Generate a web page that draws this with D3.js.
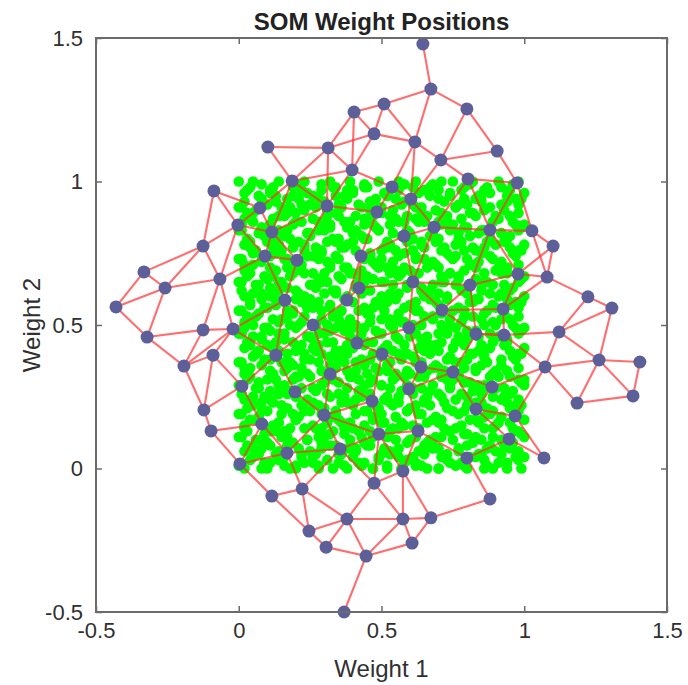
<!DOCTYPE html>
<html>
<head>
<meta charset="utf-8">
<script src="https://cdn.jsdelivr.net/npm/d3@7"></script>
<style>
  body { margin: 0; background: #fff; }
  text { font-family: "Liberation Sans", Arial, Helvetica, sans-serif; }
</style>
</head>
<body>
<div id="container"></div>
<script>
const width = 688;
const height = 685;
const marginTop = 38;
const marginRight = 21;
const marginBottom = 73;
const marginLeft = 96;

const xTicks = [-0.5, 0, 0.5, 1, 1.5];
const xTickLabels = ["-0.5", "0", "0.5", "1", "1.5"];
const yTicks = [-0.5, 0, 0.5, 1, 1.5];
const yTickLabels = ["-0.5", "0", "0.5", "1", "1.5"];

// input samples (hundredths), one line per row of the cloud
const greenX = [
1,2,8,9,10,16,18,20,26,28,28,33,37,38,42,47,47,52,52,57,62,62,66,70,70,76,78,80,86,87,89,94,94,99,
0,4,5,11,13,14,20,22,23,27,31,35,35,40,43,44,49,50,56,58,59,64,65,71,73,74,79,83,84,86,91,92,98,100,
2,3,7,8,14,16,17,22,25,26,29,34,36,41,41,46,49,53,53,56,61,63,68,68,73,77,77,81,85,88,90,95,97,98,
0,5,6,10,11,15,19,21,24,29,30,32,38,39,44,45,47,51,55,59,60,65,66,70,71,75,80,82,83,87,92,93,96,100,
1,3,8,9,13,17,16,23,24,28,32,33,37,37,43,46,48,52,54,56,62,63,67,69,74,76,79,80,85,89,89,94,97,99,
2,2,6,11,12,14,18,20,26,27,29,35,36,40,42,44,50,51,53,58,61,62,66,71,72,74,78,83,84,86,90,95,96,98,
0,4,7,8,14,15,20,21,23,29,31,33,34,39,44,47,47,50,55,57,59,64,68,69,70,77,79,81,86,88,91,92,98,100,
1,3,5,10,12,17,19,22,25,26,30,34,38,40,41,45,49,53,54,59,60,63,65,67,73,75,77,82,83,87,89,94,95,99,
2,1,8,9,11,15,17,23,24,28,32,31,36,41,43,46,48,51,56,56,62,65,66,70,72,76,80,80,85,85,92,93,97,98,
0,5,6,11,14,16,18,20,22,27,29,35,37,38,42,44,50,52,53,57,61,61,67,71,74,74,78,82,84,89,90,95,96,100,
1,3,7,7,13,14,19,21,26,29,30,33,35,40,44,47,46,50,55,58,59,63,64,68,73,77,79,81,86,86,91,93,98,99,
2,4,4,10,12,16,20,22,24,25,31,34,38,39,42,45,49,52,54,55,60,65,66,70,71,75,77,83,83,88,89,94,95,100,
0,2,8,11,11,15,17,19,25,28,29,32,37,41,43,44,48,53,52,59,62,62,68,69,72,76,80,79,85,87,90,92,97,98,
1,5,6,9,14,13,18,23,23,27,32,35,34,38,41,46,50,50,56,57,61,64,65,67,74,73,78,82,84,86,92,95,96,99,
2,3,7,10,12,17,19,20,26,29,28,33,36,40,44,45,47,51,54,58,59,63,67,71,70,75,79,81,86,89,88,93,98,100,
0,4,5,8,13,16,16,22,24,26,30,31,38,39,42,47,49,52,55,56,60,65,64,69,73,77,76,80,83,85,91,94,94,98,
1,2,8,11,10,14,20,21,25,28,32,34,37,37,43,44,48,50,53,59,62,61,66,70,72,74,80,83,84,88,90,92,97,99,
2,5,6,9,14,15,18,23,22,27,31,33,35,41,40,46,50,53,54,57,58,64,68,68,71,76,78,82,85,86,89,95,96,100,
0,3,7,10,12,17,17,19,26,29,29,35,36,39,44,45,46,51,56,55,61,63,65,71,74,75,77,79,86,87,92,93,98,98,
1,4,4,9,13,13,19,22,24,25,32,32,38,40,42,47,49,52,52,58,60,62,67,69,70,77,79,81,83,89,90,94,95,99,
2,1,8,8,11,16,20,20,23,28,30,34,37,38,43,44,48,50,55,56,62,65,66,67,73,73,80,82,84,85,91,92,97,100,
0,5,6,11,14,15,17,21,26,27,31,33,34,41,41,46,50,53,54,59,59,64,64,70,72,76,78,80,86,88,89,95,96,98,
1,3,7,10,12,14,18,23,25,29,28,35,36,39,44,45,47,51,53,57,61,61,68,71,71,74,77,83,85,87,92,93,98,99,
2,4,5,9,13,17,19,22,22,26,30,32,38,40,42,43,49,52,56,55,60,63,66,69,74,77,79,81,83,86,90,94,94,100,
0,2,8,8,11,16,20,20,24,28,32,31,35,37,43,47,48,50,54,58,62,65,67,68,70,75,76,82,84,89,91,92,97,98,
1,5,6,11,12,13,17,23,26,27,29,34,37,41,44,46,46,51,55,56,58,62,65,71,73,74,80,79,86,85,88,95,96,99,
2,3,4,10,14,15,18,19,23,29,31,35,36,38,40,44,50,53,52,59,61,64,64,70,72,76,78,83,82,88,90,93,98,100,
0,4,7,9,13,17,16,21,25,25,30,33,34,40,43,45,49,52,54,57,60,61,67,69,74,77,77,81,85,87,92,94,95,98,
1,1,8,8,11,14,19,22,24,28,32,32,38,39,41,47,48,49,56,58,59,63,68,68,71,73,79,80,84,86,89,92,97,99,
2,5,5,11,12,16,20,20,26,29,28,34,35,37,44,44,47,53,53,55,62,65,66,71,70,75,78,82,83,89,91,95,96,100,
0,3,6,10,14,15,17,23,22,27,31,31,36,41,42,46,50,50,54,59,61,62,64,69,73,76,80,81,86,88,90,93,98,98,
1,2,8,9,13,13,18,21,25,26,30,35,37,38,43,47,46,52,55,57,58,64,67,70,72,77,76,79,85,85,92,94,94,99,
2,4,7,11,11,17,19,19,24,28,29,33,34,40,40,45,48,51,52,56,60,63,65,67,74,74,78,83,84,87,88,95,97,100,
0,3,5,8,12,14,20,22,23,29,32,34,38,39,44,44,49,53,56,58,62,61,68,70,71,75,79,81,82,86,91,92,96,98
];
const greenY = [
1,0,0,2,0,1,0,0,2,1,0,0,1,0,2,0,0,1,0,0,2,1,0,0,0,1,2,0,0,1,0,0,2,0,
1,3,4,2,5,3,1,4,2,5,3,2,5,4,1,2,3,5,4,2,3,1,5,4,3,2,1,4,5,3,2,5,3,4,
6,8,5,7,6,4,8,5,6,4,7,8,5,6,7,8,4,6,5,7,4,6,7,8,5,6,7,4,5,8,6,7,4,6,
11,7,10,9,8,11,9,7,10,9,11,8,7,10,9,8,11,7,10,9,10,8,9,7,11,10,8,9,11,7,10,8,9,11,
11,13,10,12,13,11,13,14,10,11,12,13,12,14,11,13,12,11,14,14,11,14,10,11,13,14,12,12,10,11,14,10,13,12,
15,14,17,13,15,16,14,17,15,14,14,17,16,14,13,15,16,16,13,15,15,14,16,17,14,13,15,17,16,14,15,16,14,13,
19,17,18,20,16,19,17,18,20,19,16,18,19,16,20,18,17,19,18,16,20,19,17,18,16,19,20,17,18,19,16,18,20,17,
19,21,22,20,23,21,19,22,20,23,21,20,23,22,19,20,21,23,22,20,21,19,23,22,21,20,19,22,23,21,20,23,21,22,
24,26,23,25,24,22,26,23,24,22,25,26,23,24,25,26,22,24,23,25,22,24,25,26,23,24,25,22,23,26,24,25,22,24,
29,25,28,27,26,29,27,25,28,27,29,26,25,28,27,26,29,25,28,27,28,26,27,25,29,28,26,27,29,25,28,26,27,29,
29,31,28,30,31,29,31,32,28,29,30,31,30,32,29,31,30,29,32,32,29,32,28,29,31,32,30,30,28,29,32,28,31,30,
33,32,35,31,33,34,32,35,33,32,32,35,34,32,31,33,34,34,31,33,33,32,34,35,32,31,33,35,34,32,33,34,32,31,
37,35,36,38,34,37,35,36,38,37,34,36,37,34,38,36,35,37,36,34,38,37,35,36,34,37,38,35,36,37,34,36,38,35,
37,39,40,38,41,39,37,40,38,41,39,38,41,40,37,38,39,41,40,38,39,37,41,40,39,38,37,40,41,39,38,41,39,40,
42,44,41,43,42,40,44,41,42,40,43,44,41,42,43,44,40,42,41,43,40,42,43,44,41,42,43,40,41,44,42,43,40,42,
47,43,46,45,44,47,45,43,46,45,47,44,43,46,45,44,47,43,46,45,46,44,45,43,47,46,44,45,47,43,46,44,45,47,
47,49,46,48,49,47,49,50,46,47,48,49,48,50,47,49,48,47,50,50,47,50,46,47,49,50,48,48,46,47,50,46,49,48,
51,50,53,49,51,52,50,53,51,50,50,53,52,50,49,51,52,52,49,51,51,50,52,53,50,49,51,53,52,50,51,52,50,49,
55,53,54,56,52,55,53,54,56,55,52,54,55,52,56,54,53,55,54,52,56,55,53,54,52,55,56,53,54,55,52,54,56,53,
55,57,58,56,59,57,55,58,56,59,57,56,59,58,55,56,57,59,58,56,57,55,59,58,57,56,55,58,59,57,56,59,57,58,
60,62,59,61,60,58,62,59,60,58,61,62,59,60,61,62,58,60,59,61,58,60,61,62,59,60,61,58,59,62,60,61,58,60,
65,61,64,63,62,65,63,61,64,63,65,62,61,64,63,62,65,61,64,63,64,62,63,61,65,64,62,63,65,61,64,62,63,65,
65,67,64,66,67,65,67,68,64,65,66,67,66,68,65,67,66,65,68,68,65,68,64,65,67,68,66,66,64,65,68,64,67,66,
69,68,71,67,69,70,68,71,69,68,68,71,70,68,67,69,70,70,67,69,69,68,70,71,68,67,69,71,70,68,69,70,68,67,
73,71,72,74,70,73,71,72,74,73,70,72,73,70,74,72,71,73,72,70,74,73,71,72,70,73,74,71,72,73,70,72,74,71,
73,75,76,74,77,75,73,76,74,77,75,74,77,76,73,74,75,77,76,74,75,73,77,76,75,74,73,76,77,75,74,77,75,76,
78,80,77,79,78,76,80,77,78,76,79,80,77,78,79,80,76,78,77,79,76,78,79,80,77,78,79,76,77,80,78,79,76,78,
83,79,82,81,80,83,81,79,82,81,83,80,79,82,81,80,83,79,82,81,82,80,81,79,83,82,80,81,83,79,82,80,81,83,
83,85,82,84,85,83,85,86,82,83,84,85,84,86,83,85,84,83,86,86,83,86,82,83,85,86,84,84,82,83,86,82,85,84,
87,86,89,85,87,88,86,89,87,86,86,89,88,86,85,87,88,88,85,87,87,86,88,89,86,85,87,89,88,86,87,88,86,85,
91,89,90,92,88,91,89,90,92,91,88,90,91,88,92,90,89,91,90,88,92,91,89,90,88,91,92,89,90,91,88,90,92,89,
91,93,94,92,95,93,91,94,92,95,93,92,95,94,91,92,93,95,94,92,93,91,95,94,93,92,91,94,95,93,92,95,93,94,
96,98,95,97,96,94,98,95,96,94,97,98,95,96,97,98,94,96,95,97,94,96,97,98,95,96,97,94,95,98,96,97,94,96,
100,97,100,99,98,100,99,97,100,99,100,98,97,100,99,98,100,97,100,99,100,98,99,97,100,100,98,99,100,97,100,98,99,100
];

// neuron weight positions
const nodeNames = ["A","B","C","D","E","F","G","H","I","J","K","L","M","N","O","P","Q","R","S","T","U","V","W","X","Y","Z",
  "a","b","c","d","e","f","g","h","i","j","k","l","m","n","o","p","q","r","s","t","u","v","w","x","y","z",
  "aa","ab","ac","ad","ae","af","ag","ah","ai","aj","ak","al","am","an","ao","ap","aq","ar","as","at","au","av","aw","ax","ay","az",
  "ba","bb","bc","bd","be","bf","bg","bh","bi","bj","bk","bl","bm","bn","bo","bp","bq","br","bs","bt","bu","bv"];
const nodeX = [0.645,0.673,0.509,0.404,0.799,0.474,0.617,0.313,0.708,0.397,0.187,0.803,0.537,0.603,0.309,0.484,0.684,0.102,-0.087,0.074,-0.003,0.905,0.975,0.880,1.027,0.116,
  -0.125,0.092,-0.332,-0.066,-0.258,0.162,-0.430,-0.125,-0.020,-0.321,0.130,-0.090,-0.192,0.011,-0.122,0.579,0.204,0.428,0.610,0.810,0.421,0.379,0.712,0.260,0.596,0.831,
  0.414,0.502,0.638,0.750,0.320,0.596,0.197,0.467,0.831,0.299,1.101,0.978,1.080,1.223,1.307,0.926,1.122,0.929,1.262,1.405,1.073,0.887,1.381,1.185,0.968,-0.097,
  0.081,0.169,0.004,0.116,0.491,0.628,0.355,0.799,0.575,0.474,0.222,0.379,0.575,0.673,0.246,0.607,0.306,0.446,0.369,0.947,1.069,0.880];
const nodeY = [1.479,1.322,1.270,1.242,1.253,1.166,1.138,1.117,1.075,1.040,1.002,1.009,0.981,0.939,0.915,0.894,0.841,1.120,0.967,0.908,0.848,1.106,0.995,0.831,0.828,0.824,
  0.775,0.740,0.685,0.660,0.629,0.587,0.563,0.483,0.486,0.458,0.395,0.395,0.357,0.287,0.204,0.810,0.726,0.740,0.650,0.639,0.629,0.587,0.552,0.500,0.490,0.469,
  0.437,0.399,0.354,0.336,0.329,0.277,0.267,0.235,0.207,0.186,0.775,0.678,0.667,0.598,0.559,0.556,0.476,0.465,0.378,0.371,0.354,0.284,0.253,0.228,0.183,0.131,
  0.155,0.054,0.016,-0.096,0.120,0.131,0.068,0.037,-0.009,-0.051,-0.071,-0.176,-0.176,-0.172,-0.218,-0.260,-0.274,-0.305,-0.500,0.103,0.037,-0.106];

// neighbour links between neurons
const links = [
  ["A","B"],["B","C"],["B","E"],["B","G"],["C","D"],["C","F"],["C","G"],["D","F"],["D","H"],["D","J"],
  ["F","H"],["F","G"],["F","J"],["H","R"],["H","K"],["H","J"],["H","O"],["J","K"],["J","M"],["J","O"],
  ["G","M"],["G","N"],["G","I"],["E","I"],["E","V"],["I","V"],["I","L"],["I","N"],["L","Q"],["L","W"],
  ["M","N"],["M","P"],["N","P"],["N","Q"],["O","P"],["K","O"],["O","q"],["P","r"],["Q","p"],["Q","X"],
  ["Q","s"],["N","p"],["V","W"],["W","Y"],["W","X"],["L","X"],["R","K"],["T","K"],["S","T"],["S","U"],
  ["S","a"],["T","U"],["U","a"],["U","Z"],["U","d"],["Z","b"],["b","d"],["b","f"],["a","c"],["a","e"],
  ["a","d"],["c","g"],["c","e"],["e","g"],["g","j"],["e","d"],["e","j"],["d","h"],["d","i"],["j","h"],
  ["j","m"],["h","i"],["h","m"],["i","m"],["i","l"],["i","k"],["i","f"],["m","l"],["l","o"],["m","o"],
  ["l","n"],["n","o"],["n","k"],["k","f"],["k","x"],["k","ag"],["o","az"],["n","ba"],["Z","q"],["q","f"],
  ["K","Z"],["T","Z"],["U","b"],["Z","O"],["b","q"],
  ["r","u"],["r","p"],["u","s"],["u","aa"],["u","v"],["v","x"],["f","x"],["x","aa"],["x","ae"],["aa","ab"],
  ["aa","y"],["s","p"],["s","t"],["s","w"],["s","y"],["t","w"],["t","z"],["t","al"],["w","y"],["w","z"],
  ["w","ap"],["y","ac"],["z","ad"],["z","ar"],["ab","ac"],["ab","af"],["ab","ah"],["ab","ae"],["ac","ad"],["ac","af"],
  ["ad","ai"],["ad","af"],["ae","ag"],["ae","aj"],["ae","ah"],["ag","aj"],["ah","aj"],["ah","be"],["af","bf"],["r","v"],
  ["X","Y"],["X","al"],["X","t"],["Y","ak"],["Y","am"],["ak","am"],["ak","al"],["al","am"],["al","ap"],["am","ap"],
  ["am","an"],["an","ao"],["an","aq"],["ao","aq"],["ao","as"],["aq","ar"],["aq","as"],["aq","au"],["ap","ar"],["ar","z"],
  ["ar","au"],["as","at"],["as","au"],["as","ax"],["as","aw"],["at","aw"],["ax","aw"],["au","ax"],["au","av"],["au","ay"],
  ["av","ai"],["av","ad"],["ay","bu"],["bt","bu"],["bh","bt"],["bh","bv"],["bv","bn"],["ai","bt"],["ai","ay"],
  ["az","ba"],["az","bc"],["ba","bc"],["bc","bb"],["ba","bb"],["bc","bd"],["bd","bk"],["bd","bo"],["bs","br"],["br","bq"],
  ["br","bl"],["br","bm"],["br","bp"],["bq","bo"],["bq","bl"],["bo","bl"],["bo","bk"],["bk","bl"],["bk","bg"],["bk","bb"],
  ["bl","bj"],["bl","bm"],["bj","bm"],["bj","bi"],["bj","bg"],["bj","be"],["bi","be"],["bi","bm"],["bi","bn"],["bi","bf"],
  ["bm","bn"],["bm","bp"],["bn","bp"],["bb","bg"],["bb","aj"],["bg","aj"],["bg","be"],["be","bf"],["bf","bh"],["aj","be"]
];

const x = d3.scaleLinear().domain([-0.5, 1.5]).range([marginLeft, width - marginRight]);
const y = d3.scaleLinear().domain([-0.5, 1.5]).range([height - marginBottom, marginTop]);

const svg = d3.create("svg")
  .attr("width", width)
  .attr("height", height);

const nodes = new Map(nodeNames.map((n, i) => [n, [nodeX[i], nodeY[i]]]));
const samples = greenX.map((gx, i) => [gx / 100, greenY[i] / 100]);

// inputs
svg.append("g")
  .selectAll("circle")
  .data(samples)
  .join("circle")
  .attr("cx", d => x(d[0]))
  .attr("cy", d => y(d[1]))
  .attr("r", 5.3)
  .attr("fill", "#00ff00");

// links
svg.append("g")
  .attr("stroke", "#ff3030")
  .attr("stroke-opacity", 0.7)
  .attr("stroke-width", 2.1)
  .selectAll("line")
  .data(links)
  .join("line")
  .attr("x1", d => x(nodes.get(d[0])[0]))
  .attr("y1", d => y(nodes.get(d[0])[1]))
  .attr("x2", d => x(nodes.get(d[1])[0]))
  .attr("y2", d => y(nodes.get(d[1])[1]));

// neurons
svg.append("g")
  .selectAll("circle")
  .data(nodeNames)
  .join("circle")
  .attr("cx", d => x(nodes.get(d)[0]))
  .attr("cy", d => y(nodes.get(d)[1]))
  .attr("r", 6.5)
  .attr("fill", "#5c5f98");

// axes, ticks pointing inward on every side
const axisColor = "#6b6b6b";
const styleAxis = g => {
  g.select(".domain").remove();
  g.selectAll(".tick line").attr("stroke", axisColor).attr("stroke-width", 1.5);
  g.selectAll(".tick text").attr("fill", "#303030").attr("font-size", 22);
};

svg.append("g")
  .attr("transform", `translate(0,${height - marginBottom})`)
  .call(d3.axisBottom(x).tickValues(xTicks).tickFormat((d, i) => xTickLabels[i]).tickSizeInner(-6).tickSizeOuter(0).tickPadding(10))
  .call(styleAxis);

svg.append("g")
  .attr("transform", `translate(0,${marginTop})`)
  .call(d3.axisTop(x).tickValues(xTicks).tickFormat("").tickSizeInner(-6).tickSizeOuter(0))
  .call(styleAxis);

svg.append("g")
  .attr("transform", `translate(${marginLeft},0)`)
  .call(d3.axisLeft(y).tickValues(yTicks).tickFormat((d, i) => yTickLabels[i]).tickSizeInner(-6).tickSizeOuter(0).tickPadding(13))
  .call(styleAxis);

svg.append("g")
  .attr("transform", `translate(${width - marginRight},0)`)
  .call(d3.axisRight(y).tickValues(yTicks).tickFormat("").tickSizeInner(-6).tickSizeOuter(0))
  .call(styleAxis);

svg.append("rect")
  .attr("x", marginLeft)
  .attr("y", marginTop)
  .attr("width", width - marginLeft - marginRight)
  .attr("height", height - marginTop - marginBottom)
  .attr("fill", "none")
  .attr("stroke", axisColor)
  .attr("stroke-width", 2);

svg.append("text")
  .attr("x", (marginLeft + width - marginRight) / 2)
  .attr("y", 30)
  .attr("text-anchor", "middle")
  .attr("font-size", 24)
  .attr("font-weight", "bold")
  .attr("fill", "#222")
  .text("SOM Weight Positions");

svg.append("text")
  .attr("x", (marginLeft + width - marginRight) / 2)
  .attr("y", 677)
  .attr("text-anchor", "middle")
  .attr("font-size", 24)
  .attr("fill", "#303030")
  .text("Weight 1");

svg.append("text")
  .attr("transform", `translate(40,${(marginTop + height - marginBottom) / 2}) rotate(-90)`)
  .attr("text-anchor", "middle")
  .attr("font-size", 24)
  .attr("fill", "#303030")
  .text("Weight 2");

container.append(svg.node());
</script>
</body>
</html>
